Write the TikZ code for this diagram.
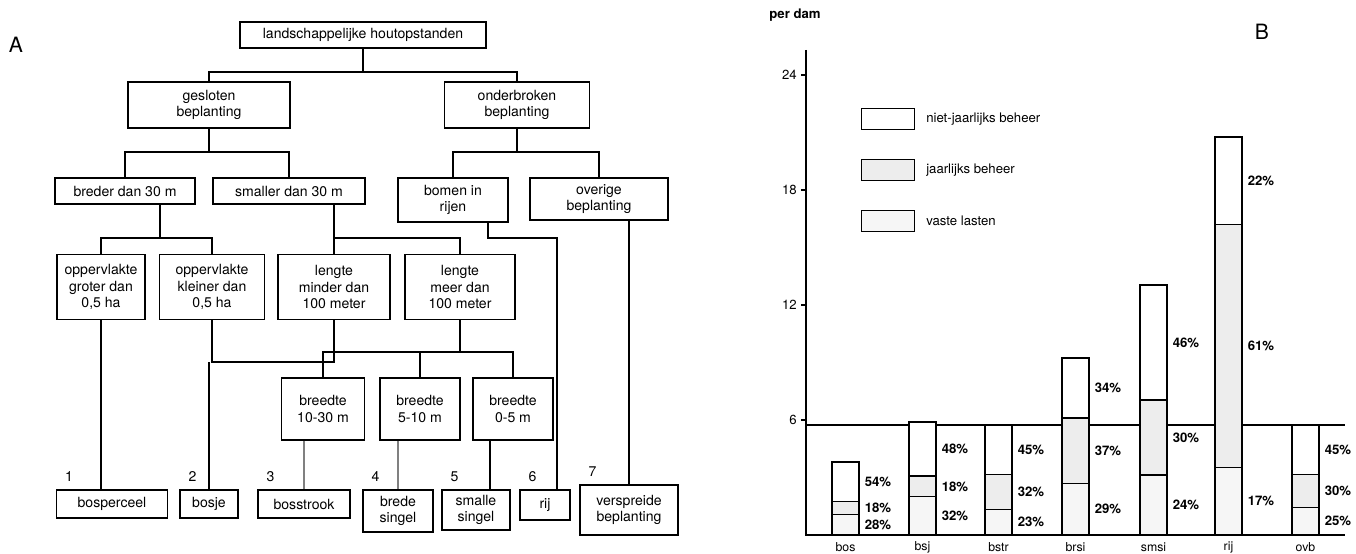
\documentclass[tikz,border=0pt]{standalone}
\usepackage{fontspec}
\setmainfont{TeX Gyre Heros}
\usetikzlibrary{positioning,calc}

\begin{document}
\begin{tikzpicture}[x=0.02cm, y=-0.02cm, line width=0.9pt,
    blok/.style={draw, rectangle, line width=1.1pt, inner sep=2pt, align=center, font=\fontsize{8}{9.5}\selectfont},
    nummer/.style={inner sep=1pt, font=\fontsize{8}{9}\selectfont},
    zwak/.style={line width=0.6pt, gray},
    pct/.style={anchor=west, inner sep=0pt, font=\fontsize{7.5}{8}\selectfont\bfseries},
    legbox/.style={draw, rectangle, line width=1.1pt, minimum width=1.06cm, minimum height=0.42cm, inner sep=0pt},
    legtekst/.style={anchor=west, inner sep=0pt, font=\fontsize{7.5}{8}\selectfont}]
    \useasboundingbox (0,0) rectangle (1356,554);

    % A
    \node at (16,45) {\fontsize{12}{12}\selectfont A};
    \node (houtop) [blok, minimum width=4.92cm, minimum height=0.52cm] at (363,35) {landschappelijke houtopstanden};

    \node (gesl) [blok, minimum width=3.24cm, minimum height=0.92cm] at (209,105) {gesloten\\beplanting};
    \node (onderbr) [blok, minimum width=2.9cm, minimum height=0.92cm] at (517,105) {onderbroken\\beplanting};

    \node (breder) [blok, minimum width=2.8cm, minimum height=0.52cm] at (125,191) {breder dan 30 m};
    \node (smaller) [blok, minimum width=3.04cm, minimum height=0.52cm] at (289,191) {smaller dan 30 m};
    \node (rijen) [blok, minimum width=2.2cm, minimum height=0.88cm] at (453,200) {bomen in\\rijen};
    \node (overig) [blok, minimum width=2.76cm, minimum height=0.84cm] at (599,199) {overige\\beplanting};

    \node (opgr) [blok, minimum width=1.76cm, minimum height=1.3cm] at (101,287) {oppervlakte\\groter dan\\0,5 ha};
    \node (opkl) [blok, minimum width=2.1cm, minimum height=1.3cm] at (212,287) {oppervlakte\\kleiner dan\\0,5 ha};
    \node (lgmin) [blok, minimum width=2.24cm, minimum height=1.3cm] at (334,287) {lengte\\minder dan\\100 meter};
    \node (lgmeer) [blok, minimum width=2.2cm, minimum height=1.3cm] at (460,287) {lengte\\meer dan\\100 meter};

    \node (br1) [blok, minimum width=1.66cm, minimum height=1.24cm] at (323,409) {breedte\\10-30 m};
    \node (br2) [blok, minimum width=1.6cm, minimum height=1.24cm] at (420,409) {breedte\\5-10 m};
    \node (br3) [blok, minimum width=1.6cm, minimum height=1.24cm] at (513,409) {breedte\\0-5 m};

    \node (bos) [blok, minimum width=2.22cm, minimum height=0.56cm] at (112,504) {bosperceel};
    \node (bosje) [blok, minimum width=1.16cm, minimum height=0.56cm] at (209,504) {bosje};
    \node (bosstr) [blok, minimum width=1.84cm, minimum height=0.56cm] at (304,504) {bosstrook};
    \node (bsing) [blok, minimum width=1.4cm, minimum height=0.84cm] at (398,511) {brede\\singel};
    \node (ssing) [blok, minimum width=1.36cm, minimum height=0.8cm] at (476,510) {smalle\\singel};
    \node (rij) [blok, minimum width=1.0cm, minimum height=0.6cm] at (545,505) {rij};
    \node (versp) [blok, minimum width=1.96cm, minimum height=1.0cm] at (629,510) {verspreide\\beplanting};

    \node [nummer, above right=3pt and 4pt of bos.north west] {1};
    \node [nummer, above right=3pt and 4pt of bosje.north west] {2};
    \node [nummer, above right=3pt and 4pt of bosstr.north west] {3};
    \node [nummer, above right=3pt and 4pt of bsing.north west] {4};
    \node [nummer, above right=3pt and 4pt of ssing.north west] {5};
    \node [nummer, above right=3pt and 4pt of rij.north west] {6};
    \node [nummer, above right=3pt and 4pt of versp.north west] {7};

    \coordinate (j1) at (houtop.south |- 0,72);
    \draw (houtop) -- (j1);
    \draw (gesl.north) |- (j1) -| (onderbr.north);

    \coordinate (j2) at (gesl.south |- 0,152);
    \draw (gesl) -- (j2);
    \draw (breder.north) |- (j2) -| (smaller.north);
    \coordinate (j3) at (onderbr.south |- 0,152);
    \draw (onderbr) -- (j3);
    \draw (rijen.north) |- (j3) -| (overig.north);

    \coordinate (j4) at (160,238);
    \draw (breder.south -| j4) -- (j4);
    \draw (opgr.north) |- (j4) -| (opkl.north);
    \coordinate (j5) at (lgmin.north |- 0,238);
    \draw (smaller.south -| j5) -- (lgmin.north);
    \draw (j5) -| (lgmeer.north);

    \draw (opgr) -- (opgr |- bos.north);
    \draw (opkl.south) |- (lgmin.south |- 0,362) -- (lgmin.south);
    \draw (bosje.north |- 0,362) -- (bosje.north);

    \coordinate (j7) at (lgmeer.south |- 0,352);
    \draw (lgmeer) -- (j7);
    \draw (br1.north) |- (j7) -| (br3.north);
    \draw (br2.north) -- (br2.north |- j7);

    \draw ([xshift=0.7cm]rijen.south) |- ([xshift=0.24cm]rij.north |- 0,238) -- ([xshift=0.24cm]rij.north);
    \draw (versp.north |- overig.south) -- (versp.north);

    \draw[zwak] (bosstr.north |- br1.south) -- (bosstr.north);
    \draw[zwak] (bsing.north |- br2.south) -- (bsing.north);
    \draw ([xshift=-0.46cm]br3.south) -- ([xshift=-0.46cm]br3.south |- ssing.north);

    % B
    \node at (795,15) {\fontsize{7.5}{8}\selectfont\bfseries per dam};
    \node at (1262,32) {\fontsize{12}{12}\selectfont B};
    \draw (806,50) -- (806,535) -- (1345,535);
    \foreach \v in {6,12,18,24}
        \draw (806,{535-19.17*\v}) -- ++(-5,0) node[left, inner sep=2pt, font=\fontsize{7.5}{8}\selectfont] {\v};
    \draw (806,425) -- (1345,425);

    \node (ln1) [legbox, fill=white] at (888,119) {};
    \node (ln2) [legbox, fill=gray!14] at (888,170) {};
    \node (ln3) [legbox, fill=gray!7] at (888,221) {};
    \node [legtekst, right=0.2cm of ln1] {niet-jaarlijks beheer};
    \node [legtekst, right=0.2cm of ln2] {jaarlijks beheer};
    \node [legtekst, right=0.2cm of ln3] {vaste lasten};

    \foreach \x/\h/\p/\q/\r/\naam in {832/73/54/18/28/bos, 909/113/48/18/32/bsj, 985/110/45/32/23/bstr, 1062/177/34/37/29/brsi, 1140/250/46/30/24/smsi, 1215/398/22/61/17/rij, 1292/110/45/30/25/ovb}{
        \pgfmathsetmacro{\ytop}{535-\h}
        \pgfmathsetmacro{\ya}{\ytop+\h/100*\p}
        \pgfmathsetmacro{\yb}{\ya+\h/100*\q}
        \fill[white] (\x,\ytop) rectangle (\x+27,\ya);
        \fill[gray!14] (\x,\ya) rectangle (\x+27,\yb);
        \fill[gray!7] (\x,\yb) rectangle (\x+27,535);
        \draw (\x,\ytop) rectangle (\x+27,535);
        \draw (\x,\ya) -- (\x+27,\ya);
        \draw (\x,\yb) -- (\x+27,\yb);
        \node[pct] at (\x+32,{(\ytop+\ya)/2}) {\p\%};
        \node[pct] at (\x+32,{(\ya+\yb)/2}) {\q\%};
        \node[pct] at (\x+32,{(\yb+535)/2}) {\r\%};
        \node[font=\fontsize{7}{8}\selectfont, inner sep=0pt] at (\x+13.5,547) {\naam};
    }
\end{tikzpicture}
\end{document}
